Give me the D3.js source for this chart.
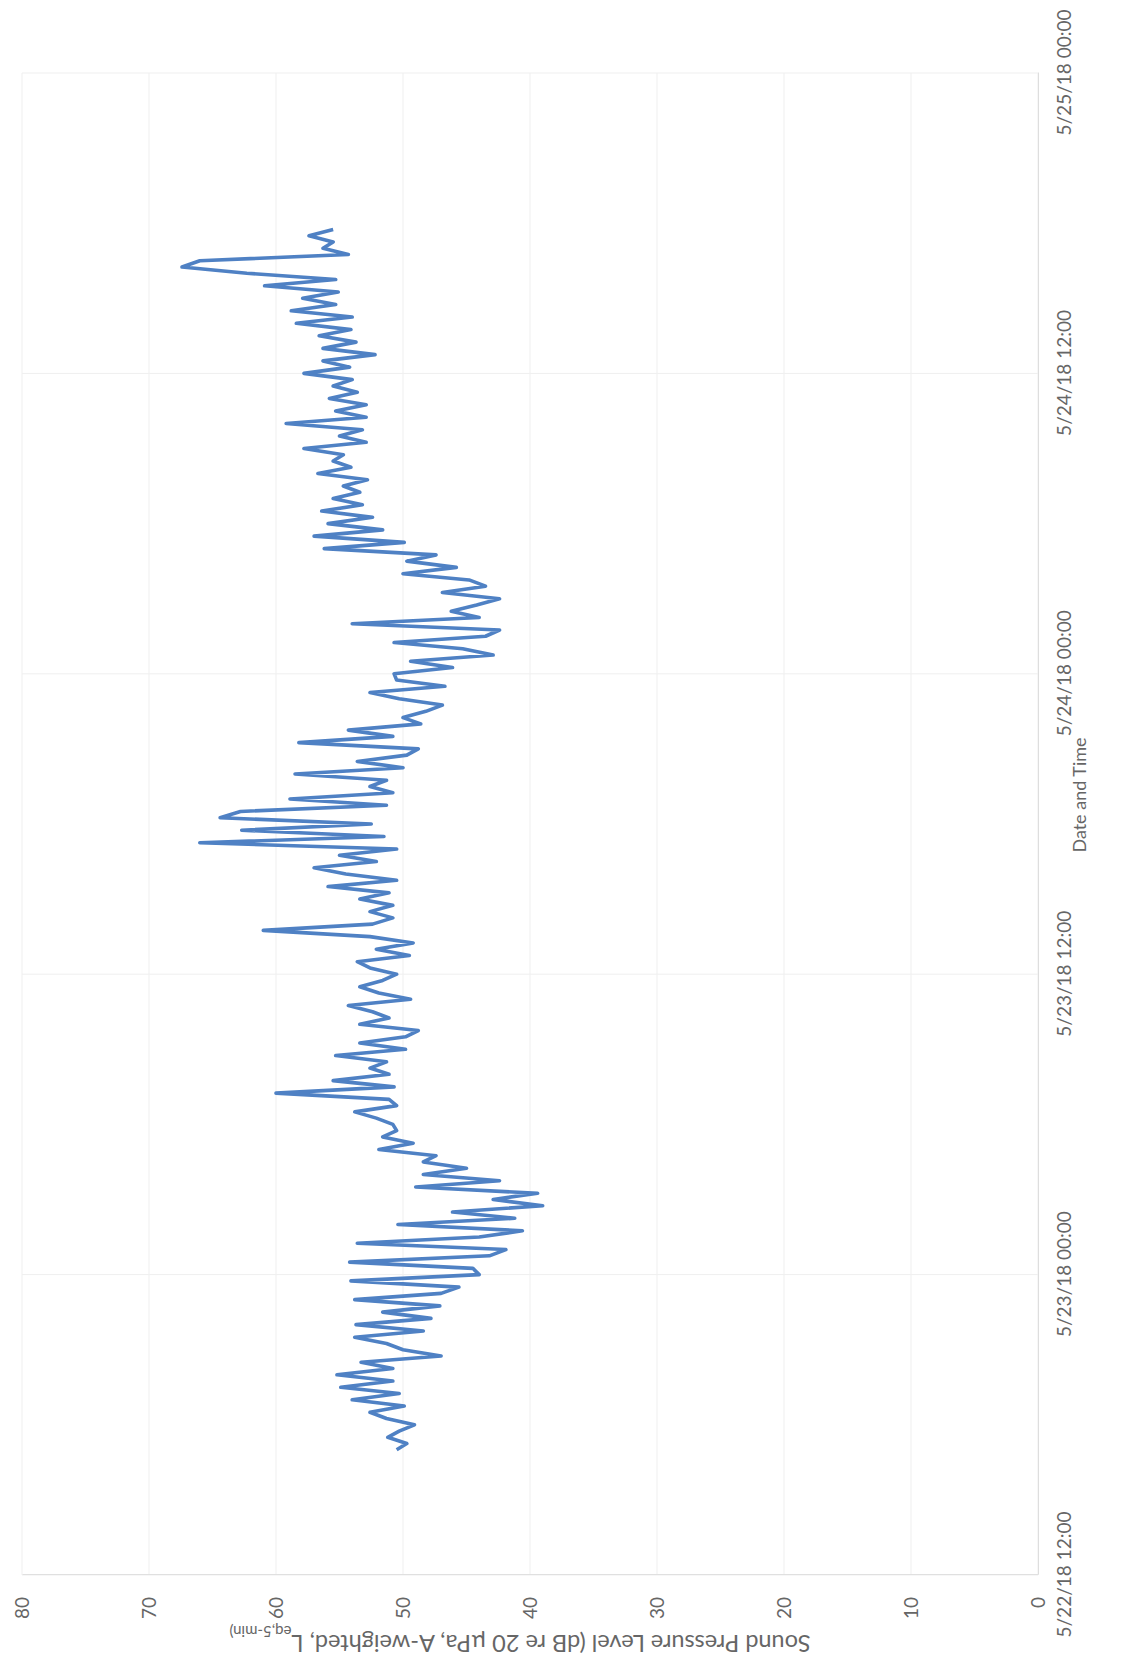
<!DOCTYPE html>
<html>
<head>
<meta charset="utf-8">
<script src="https://cdn.jsdelivr.net/npm/d3@7"></script>
<style>
  html, body { margin: 0; padding: 0; background: #fff; }
  svg { display: block; }
</style>
</head>
<body>
<div id="chart"></div>
<script>
// 15-minute readings of the sound level, starting 5/22/18 17:00
const startTime = new Date(2018, 4, 22, 17, 0);
const stepMinutes = 15;
const splValues = [
  50.5, 49.7, 51.2, 50.3, 49.1, 51.3, 52.6, 49.9, 54.0, 50.3,
  54.9, 50.8, 55.2, 50.8, 53.3, 47.0, 50.0, 51.3, 53.8, 48.4,
  53.7, 47.8, 51.6, 47.1, 53.8, 47.0, 45.6, 54.1, 44.0, 44.5,
  54.2, 43.2, 41.9, 53.6, 44.0, 40.6, 50.4, 41.2, 46.1, 39.0,
  42.9, 39.4, 49.0, 42.4, 48.4, 45.0, 48.4, 47.4, 51.9, 49.2,
  51.6, 50.5, 50.8, 52.1, 53.8, 50.5, 51.1, 60.0, 50.7, 55.5,
  51.1, 52.6, 51.3, 55.3, 49.8, 53.4, 49.8, 48.8, 53.4, 51.1,
  52.4, 54.3, 49.4, 51.9, 53.4, 51.6, 50.5, 52.6, 53.6, 49.5,
  52.1, 49.2, 52.6, 61.0, 52.4, 50.8, 52.6, 50.8, 53.4, 51.1,
  55.9, 50.5, 54.5, 57.0, 52.1, 55.0, 50.5, 66.0, 51.5, 62.7,
  52.5, 64.4, 62.8, 51.3, 58.9, 50.8, 52.6, 51.3, 58.5, 50.0,
  53.6, 49.7, 48.8, 58.2, 50.8, 54.3, 48.6, 50.0, 48.2, 46.9,
  50.3, 52.6, 46.7, 50.5, 50.7, 46.1, 49.4, 42.9, 45.3, 50.7,
  43.5, 42.4, 54.0, 44.0, 46.2, 44.2, 42.4, 46.9, 43.5, 44.8,
  50.0, 45.8, 49.7, 47.4, 56.2, 49.9, 57.0, 51.6, 55.9, 52.4,
  56.4, 53.2, 55.5, 53.4, 54.7, 52.8, 56.7, 54.1, 55.5, 54.7,
  57.8, 52.9, 55.0, 53.2, 59.2, 52.9, 55.3, 52.9, 55.8, 53.6,
  55.5, 54.0, 57.8, 54.2, 56.3, 52.2, 56.3, 53.7, 56.6, 54.1,
  58.4, 54.0, 58.8, 55.3, 57.9, 55.1, 60.9, 55.3, 62.3, 67.4,
  66.0, 54.3, 56.3, 55.5, 57.4, 55.5
];

const timeTicks = [
  new Date(2018, 4, 22, 12), new Date(2018, 4, 23, 0), new Date(2018, 4, 23, 12),
  new Date(2018, 4, 24, 0), new Date(2018, 4, 24, 12), new Date(2018, 4, 25, 0)
];
const timeTickLabels = ["5/22/18 12:00", "5/23/18 00:00", "5/23/18 12:00",
  "5/24/18 00:00", "5/24/18 12:00", "5/25/18 00:00"];
const levelTicks = [0, 10, 20, 30, 40, 50, 60, 70, 80];

const data = splValues.map((v, i) => ({
  t: new Date(startTime.getTime() + i * stepMinutes * 60000),
  v: v
}));

// the scanned page is turned a quarter turn, so the chart is drawn upright
// inside a group rotated -90 degrees
const pageW = 1125, pageH = 1663;
const left = 22, bottom = 1575;
const W = 1502, H = 1016;
const font = "Lato, 'Open Sans', sans-serif";
const textColor = "#666";

const svg = d3.select("#chart").append("svg")
  .attr("width", pageW)
  .attr("height", pageH)
  .style("background", "#fff");

const g = svg.append("g")
  .attr("transform", `translate(${left},${bottom}) rotate(-90)`);

const x = d3.scaleTime()
  .domain([timeTicks[0], timeTicks[timeTicks.length - 1]])
  .range([0, W]);

const y = d3.scaleLinear()
  .domain([0, 80])
  .range([H, 0]);

// gridlines
g.append("g")
  .selectAll("line")
  .data(levelTicks)
  .enter()
  .append("line")
  .attr("x1", 0).attr("x2", W)
  .attr("y1", d => y(d)).attr("y2", d => y(d))
  .attr("stroke", "#efefef")
  .attr("stroke-width", 1);

g.append("g")
  .selectAll("line")
  .data(timeTicks)
  .enter()
  .append("line")
  .attr("x1", d => x(d)).attr("x2", d => x(d))
  .attr("y1", 0).attr("y2", H)
  .attr("stroke", "#efefef")
  .attr("stroke-width", 1);

// date axis
const xAxis = g.append("g")
  .attr("transform", `translate(0,${H})`)
  .call(d3.axisBottom(x)
    .tickValues(timeTicks)
    .tickFormat((d, i) => timeTickLabels[i])
    .tickSize(0)
    .tickPadding(20));
xAxis.select(".domain").attr("stroke", "#dedede");
xAxis.selectAll("text")
  .style("font-family", font)
  .style("font-size", "19px")
  .style("fill", textColor);

// level axis
const yAxis = g.append("g")
  .call(d3.axisLeft(y)
    .tickValues(levelTicks)
    .tickSize(0)
    .tickPadding(22));
yAxis.select(".domain").attr("stroke", "#e0e0e0");
yAxis.selectAll("text")
  .style("font-family", font)
  .style("font-size", "19px")
  .style("fill", textColor);

// level series
const line = d3.line()
  .x(d => x(d.t))
  .y(d => y(d.v));

g.append("path")
  .datum(data)
  .attr("fill", "none")
  .attr("stroke", "#4f81c4")
  .attr("stroke-width", 3.6)
  .attr("stroke-linejoin", "round")
  .attr("d", line);

// axis titles
g.append("text")
  .attr("x", 780)
  .attr("y", H + 42)
  .attr("dy", "0.35em")
  .attr("text-anchor", "middle")
  .style("font-family", font)
  .style("font-size", "18px")
  .style("fill", textColor)
  .text("Date and Time");

const yTitle = g.append("text")
  .attr("transform", `translate(-68,${H / 2 - 10}) rotate(-90)`)
  .attr("text-anchor", "middle")
  .attr("dy", "0.35em")
  .style("font-family", font)
  .style("font-size", "23.5px")
  .style("fill", textColor);
yTitle.append("tspan").text("Sound Pressure Level (dB re 20 µPa, A-weighted, L");
yTitle.append("tspan")
  .attr("baseline-shift", "sub")
  .style("font-size", "15px")
  .text("eq,5-min)");
</script>
</body>
</html>
